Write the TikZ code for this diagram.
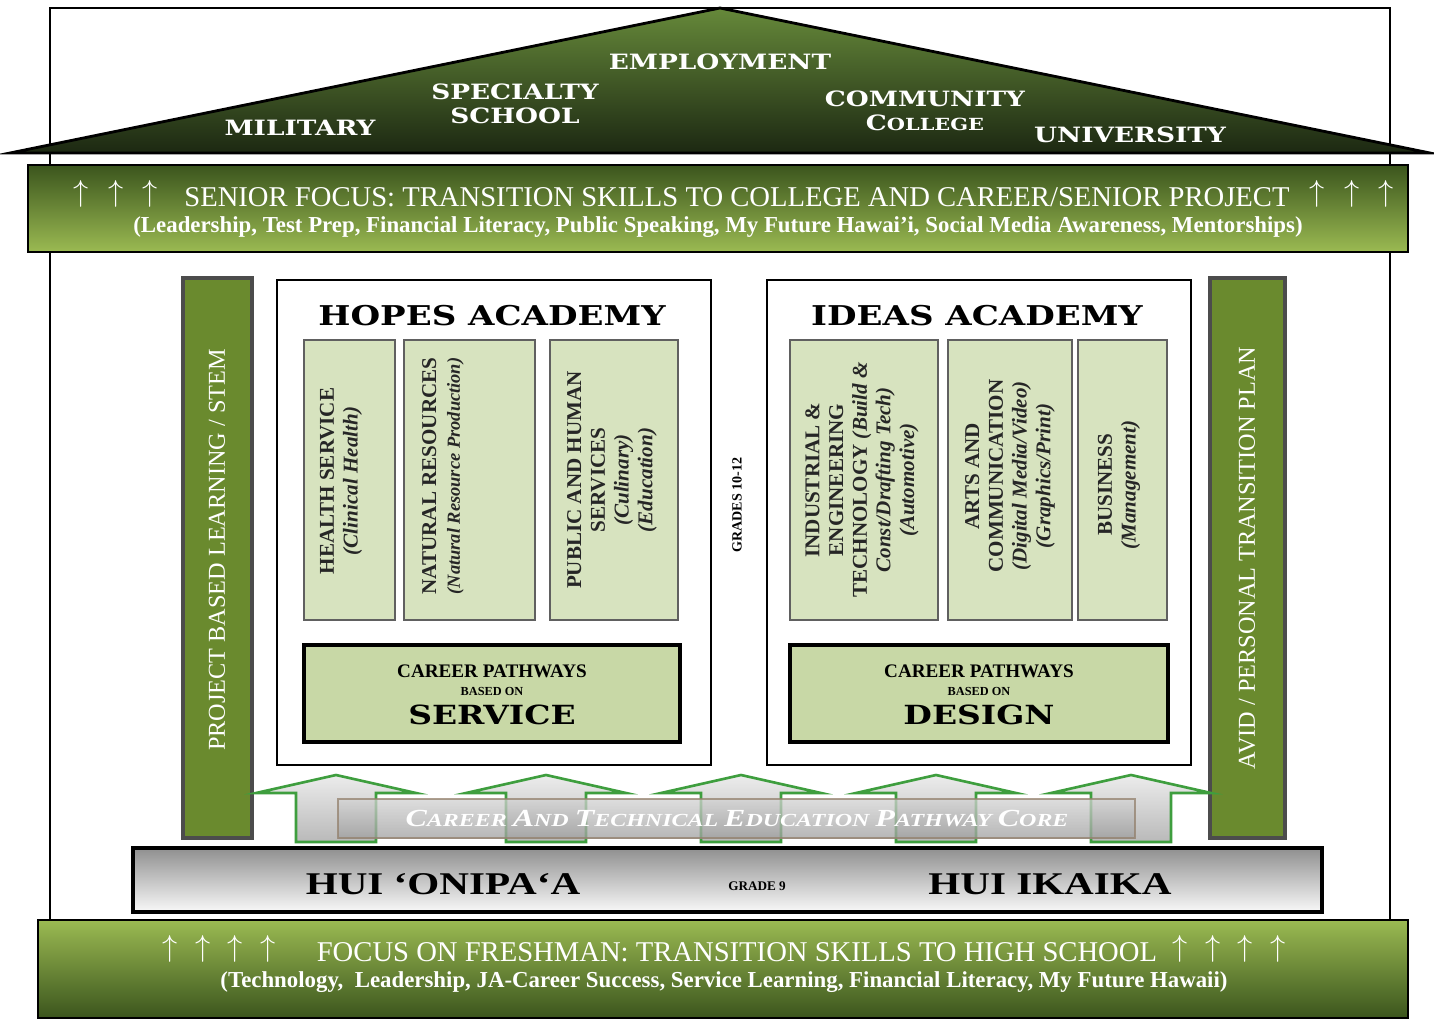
\documentclass[tikz,border=0pt]{standalone}
\usepackage{fontspec}
\setmainfont{Liberation Serif}
\newfontfamily\capfont[FakeStretch=1.25]{DejaVu Serif}
\newfontfamily\widerm[FakeStretch=1.3]{Liberation Serif}
\definecolor{pillgreen}{HTML}{6A8A2E}
\definecolor{dkgreen}{HTML}{3B551D}
\definecolor{ltgreen}{HTML}{9BBA52}
\definecolor{roofdk}{HTML}{1C2812}
\definecolor{rooflt}{HTML}{66893A}
\definecolor{subfill}{HTML}{D7E3BF}
\definecolor{pathfill}{HTML}{C8D8A6}
\definecolor{arrgreen}{HTML}{3E9E3E}
\newcommand{\upthree}{$\uparrow\hspace{11pt}\uparrow\hspace{11pt}\uparrow$}
\newcommand{\upfour}{$\uparrow\hspace{10pt}\uparrow\hspace{10pt}\uparrow\hspace{10pt}\uparrow$}
\newcommand{\initcap}[1]{{\fontsize{14}{14}\selectfont #1}}
\begin{document}
\begin{tikzpicture}[x=0.02cm,y=-0.02cm,
  band/.style={draw=black,line width=1.6pt},
  pillar/.style={draw=gray!60!black,line width=2.5pt,fill=pillgreen},
  academy/.style={draw=black,line width=1.6pt,fill=white},
  subbox/.style={draw=gray!75!black,line width=.8pt,fill=subfill},
  pathbox/.style={draw=black,line width=1.8pt,fill=pathfill},
  rooftext/.style={text=white,align=center,font=\capfont\bfseries\fontsize{12}{13.6}\selectfont},
  bandtext/.style={text=white,font=\fontsize{16.3}{18}\selectfont},
  subtext/.style={rotate=90,align=center,text=black!85,font=\bfseries\fontsize{12}{13.5}\selectfont},
  uparrow/.style={draw=arrgreen,line width=1.5pt,top color=white!85!gray,bottom color=gray!55}]
\fill[white] (0,0) rectangle (1434,1021);
\useasboundingbox (0,0) rectangle (1434,1021);
%frame
\draw[line width=1.3pt] (50,8) rectangle (1390,1000);
%ROOF
\draw[line width=1.6pt,top color=rooflt,bottom color=roofdk] (10,153) -- (720,8) -- (1430,153) -- cycle;
\node[rooftext] (employ) at (720,62) {EMPLOYMENT};
\node[rooftext] (special) at (515,104) {SPECIALTY\\SCHOOL};
\node[rooftext] (military) at (300,128) {MILITARY};
\node[rooftext] (commcol) at (925,111) {COMMUNITY\\C{\fontsize{9.5}{10}\selectfont OLLEGE}};
\node[rooftext] (univ) at (1130,135) {UNIVERSITY};
%senior band
\draw[band,top color=dkgreen,bottom color=ltgreen] (28,165) rectangle (1408,252);
\node[bandtext] (senior) at (737,197) {SENIOR FOCUS: TRANSITION SKILLS TO COLLEGE AND CAREER/SENIOR PROJECT};
\node[text=white,font=\fontsize{17}{17}\selectfont] (supl) at (116,194) {\upthree};
\node[text=white,font=\fontsize{17}{17}\selectfont] (supr) at (1352,194) {\upthree};
\node[text=white,font=\bfseries\fontsize{13}{14}\selectfont] (seniorsub) at (718,227) {(Leadership, Test Prep, Financial Literacy, Public Speaking, My Future Hawai'i, Social Media Awareness, Mentorships)};
%pillars
\draw[pillar] (183,278) rectangle (252,838);
\node[rotate=90,text=white,font=\fontsize{13.8}{14}\selectfont] (pbl) at (217,550) {PROJECT BASED LEARNING / STEM};
\draw[pillar] (1210,278) rectangle (1285,838);
\node[rotate=90,text=white,font=\fontsize{13.8}{14}\selectfont] (avid) at (1247,558) {AVID / PERSONAL TRANSITION PLAN};
%HOPES
\draw[academy] (277,280) rectangle (711,765);
\node[font=\capfont\bfseries\fontsize{15.5}{16}\selectfont] (hopes) at (492,316) {HOPES ACADEMY};
\draw[subbox] (304,340) rectangle (395,620);
\draw[subbox] (404,340) rectangle (535,620);
\draw[subbox] (550,340) rectangle (678,620);
\node[subtext] (health) at (341,481) {HEALTH SERVICE\\\textit{(Clinical Health)}};
\node[subtext] (natres) at (443,476) {NATURAL RESOURCES\\{\itshape\fontsize{10.5}{11}\selectfont(Natural Resource Production)}};
\node[subtext] (public) at (612,480) {PUBLIC AND HUMAN\\SERVICES\\\textit{(Culinary)}\\\textit{(Education)}};
\draw[pathbox] (304,645) rectangle (680,742);
\node[font=\bfseries\fontsize{10.9}{11}\selectfont] (hpath) at (492,671) {CAREER PATHWAYS};
\node[font=\bfseries\fontsize{7}{7}\selectfont] (hbased) at (492,691) {BASED ON};
\node[font=\capfont\bfseries\fontsize{15}{15}\selectfont] (service) at (492,715) {SERVICE};
\node[rotate=90,font=\bfseries\fontsize{8}{9}\selectfont] (grades) at (737,505) {GRADES 10-12};
%IDEAS
\draw[academy] (767,280) rectangle (1191,765);
\node[font=\capfont\bfseries\fontsize{15.5}{16}\selectfont] (ideas) at (977,316) {IDEAS ACADEMY};
\draw[subbox] (790,340) rectangle (938,620);
\draw[subbox] (948,340) rectangle (1072,620);
\draw[subbox] (1078,340) rectangle (1167,620);
\node[subtext] (indeng) at (862,480) {INDUSTRIAL \&\\ENGINEERING\\TECHNOLOGY \textit{(Build \&}\\\textit{Const/Drafting Tech)}\\\textit{(Automotive)}};
\node[subtext] (arts) at (1010,476) {ARTS AND\\COMMUNICATION\\\textit{(Digital Media/Video)}\\\textit{(Graphics/Print)}};
\node[subtext] (business) at (1119,485) {BUSINESS\\\textit{(Management)}};
\draw[pathbox] (790,645) rectangle (1168,742);
\node[font=\bfseries\fontsize{10.9}{11}\selectfont] (ipath) at (979,671) {CAREER PATHWAYS};
\node[font=\bfseries\fontsize{7}{7}\selectfont] (ibased) at (979,691) {BASED ON};
\node[font=\capfont\bfseries\fontsize{15}{15}\selectfont] (design) at (979,715) {DESIGN};
%CTE arrows
\foreach \x in {336,546,741,936,1131}
  \draw[uparrow] ({\x-40},842) -- ({\x-40},793) -- ({\x-80},793) -- (\x,775) -- ({\x+80},793) -- ({\x+40},793) -- ({\x+40},842) -- cycle;
\draw[draw=gray!70!brown,line width=1pt,top color=gray!35,bottom color=gray!75,opacity=.75] (338,799) rectangle (1135,838);
\node[text=white,font=\widerm\bfseries\itshape\fontsize{10.5}{12}\selectfont] (cte) at (737,818) {\initcap{C}AREER \initcap{A}ND \initcap{T}ECHNICAL \initcap{E}DUCATION \initcap{P}ATHWAY \initcap{C}ORE};
%GRADE 9
\draw[line width=2.2pt,top color=gray!75!black!70,bottom color=white!95!gray] (133,848) rectangle (1322,912);
\node[font=\widerm\bfseries\fontsize{18}{18}\selectfont] (onipaa) at (443,884) {HUI ‘ONIPA‘A};
\node[font=\bfseries\fontsize{7.5}{8}\selectfont] (grade9) at (757,886) {GRADE 9};
\node[font=\widerm\bfseries\fontsize{18}{18}\selectfont] (ikaika) at (1050,884) {HUI IKAIKA};
%freshman band
\draw[band,top color=ltgreen,bottom color=dkgreen] (38,920) rectangle (1408,1018);
\node[bandtext] (fresh) at (737,952) {FOCUS ON FRESHMAN: TRANSITION SKILLS TO HIGH SCHOOL};
\node[text=white,font=\fontsize{17}{17}\selectfont] (fupl) at (219,949) {\upfour};
\node[text=white,font=\fontsize{17}{17}\selectfont] (fupr) at (1229,949) {\upfour};
\node[text=white,font=\bfseries\fontsize{13}{14}\selectfont] (freshsub) at (724,982) {(Technology,\ \ Leadership, JA-Career Success, Service Learning, Financial Literacy, My Future Hawaii)};
\end{tikzpicture}
\end{document}
